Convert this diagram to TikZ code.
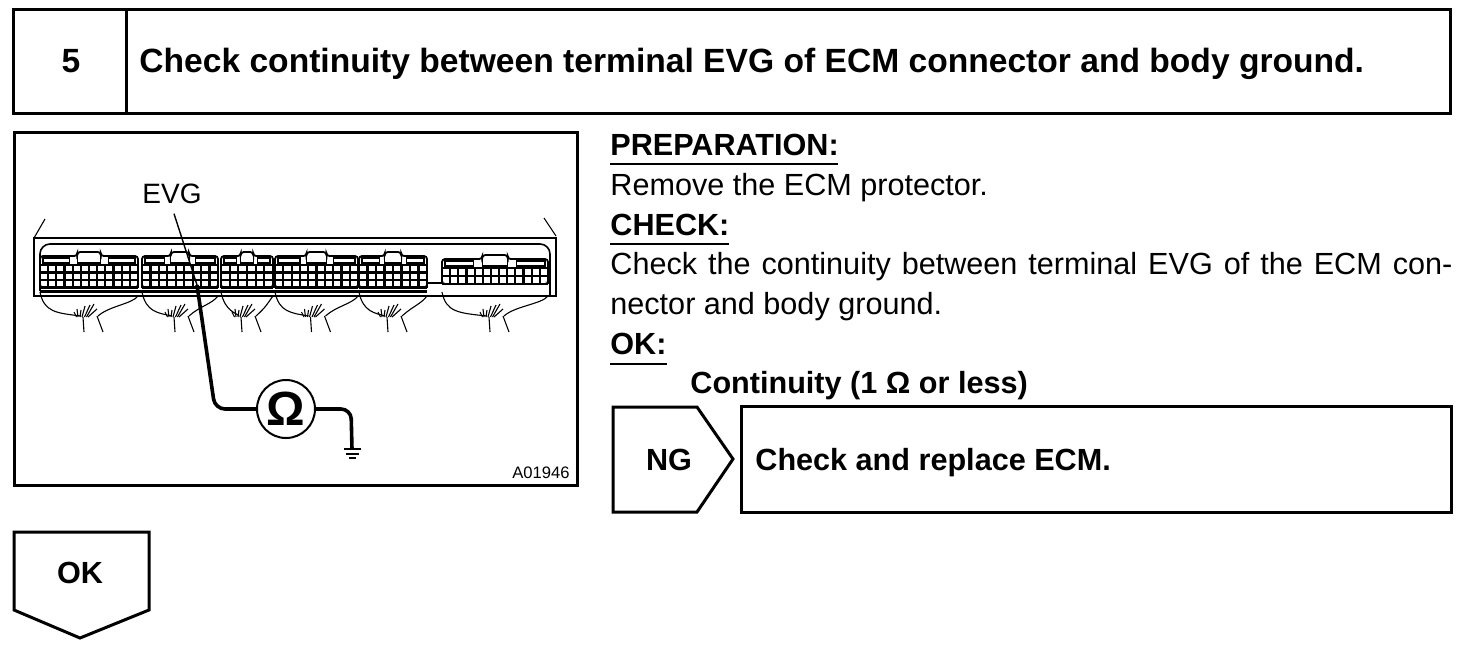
\documentclass[tikz,border=0pt]{standalone}
\usepackage{fontspec}
\setmainfont{Liberation Sans}
\usepackage{tikz}
\usetikzlibrary{arrows}
\tikzset{
  boxline/.style = {draw=black, line width=1.5pt},
  txt/.style = {anchor=base west, inner sep=0pt, font=\fontsize{15.3}{17}\selectfont},
  txt_b/.style = {txt, font=\fontsize{15.3}{17}\selectfont\bfseries},
  txt_t/.style = {txt, font=\fontsize{16.8}{19}\selectfont\bfseries},
  head_u/.style = {line width=0.9pt},% underline of a heading
  wire/.style = {line width=0.55pt},
  probe/.style = {line width=1.8pt, rounded corners=5pt},
  meter/.style = {circle, draw=black, line width=1pt, minimum size=29pt, inner sep=0pt,
    font=\fontsize{24}{24}\selectfont\bfseries}
}
\begin{document}
\begin{tikzpicture}[x=0.5pt,y=-0.5pt]
\useasboundingbox (0,0) rectangle (1472,644);
% header
\draw [boxline] (13,9) rectangle (1450,113);
\draw [boxline] (126,9) -- (126,113);
\node [txt_t, anchor=base] (num) at (71,72) {5};
\node [txt_t] (title) at (139,72) {Check continuity between terminal EVG of ECM connector and body ground.};
% picture frame
\draw [boxline] (14,132) rectangle (577,485);
\draw [wire] (34,238) -- (45,219) (556,236) -- (544,218);
\draw [line width=0.8pt] (34,238) -- (556,238) -- (556,296) -- (34,296) -- cycle;
\draw [line width=0.8pt, rounded corners=5pt] (40,291) -- (40,244) -- (550,244) -- (550,296);
\draw [line width=1.5pt] (40,291) -- (427,291);
\draw [line width=0.8pt] (427,283) -- (442,283);
% connectors, wires and bundles
\foreach \bx/\bw/\ty/\nc/\nr/\rh in {40/98/256/12/3/7.5, 142/76/256/9/3/7.5, 221/52/256/6/3/7.5, 275/83/256/10/3/7.5, 359/68/256/8/3/7.5, 442/106/259/13/2/8}{
  \draw [line width=0.9pt, rounded corners=1.5pt] (\bx,{\ty+9+\nr*\rh}) -- (\bx,\ty) -- ({\bx+.38*\bw},\ty)
    -- ({\bx+.38*\bw},\ty-4) -- ({\bx+.62*\bw},\ty-4) -- ({\bx+.62*\bw},\ty) -- ({\bx+\bw},\ty) -- ({\bx+\bw},{\ty+9+\nr*\rh}) -- cycle;
  \draw [line width=0.6pt] ({\bx+3},\ty+2) rectangle ({\bx+.3*\bw},\ty+7);
  \draw [line width=0.6pt] ({\bx+.7*\bw},\ty+2) rectangle ({\bx+\bw-3},\ty+7);
  \draw [line width=0.6pt] ({\bx+.38*\bw},\ty) -- ({\bx+.38*\bw},\ty+7) -- ({\bx+.62*\bw},\ty+7) -- ({\bx+.62*\bw},\ty);
  \foreach \r in {0,...,\nr}
    \draw [line width=1.1pt] (\bx,{\ty+9+\r*\rh}) -- ({\bx+\bw},{\ty+9+\r*\rh});
  \foreach \i in {0,...,\nc}
    \draw [line width=1.1pt] ({\bx+\i*\bw/\nc},\ty+9) -- ({\bx+\i*\bw/\nc},{\ty+9+\nr*\rh});
  \pgfmathsetmacro{\cx}{\bx+.5*\bw}
  \draw [wire] (\bx,292) .. controls (\bx+4,312) and (\bx+16,313) .. (\cx-8,316);
  \draw [wire] (\bx+\bw,296) .. controls (\bx+\bw-6,304) and (\cx+20,306) .. (\cx+9,316);
  \draw [wire] (\cx-6,317) -- (\cx-5,332) (\cx+8,316) -- (\cx+14,332);
  \foreach \dx/\dy in {-15/312,-12/309,-8/310,-4/306,1/305,5/304,8/309}
    \draw [wire] (\cx-5+.5*\dx,317) -- (\cx+\dx,\dy);
}
% probe and meter
\node [txt, anchor=base, font=\fontsize{14}{15}\selectfont] (evg) at (172,203) {EVG};
\node [meter] (ohm) at (286,409) {Ω};
\coordinate (tip) at (197,285);
\coordinate (gnd) at (352,449);
\draw [wire, line width=0.7pt] (evg.south) ++(2,10) -- (tip);
\draw [probe] (tip) -- (215,409) -- (ohm.west);
\draw [probe] (ohm.east) -- (351,409) -- (gnd);
\draw [line width=0.9pt] (344,449) -- (361,449);
\draw [line width=0.6pt] (346,454) -- (359,454) (349,458) -- (356,458);
\node [txt, anchor=base east, font=\fontsize{8.3}{10}\selectfont] (code) at (570,478) {A01946};
% instructions
\node [txt_b] (prep) at (610,155) {PREPARATION:};
\node [txt] (remove) at (610,195) {Remove the ECM protector.};
\node [txt_b] (check) at (610,235) {CHECK:};
\node [txt] (line_a) at (610,274) {\makebox[421pt][s]{Check the continuity between terminal EVG of the ECM con-}};
\node [txt] (line_b) at (610,314) {nector and body ground.};
\node [txt_b] (ok) at (610,354) {OK:};
\node [txt_b] (cont) at (690,393) {Continuity (1 Ω or less)};
\draw [head_u] (prep.base west) ++(0,9) -- ++(228,0);
\draw [head_u] (check.base west) ++(0,9) -- ++(119,0);
\draw [head_u] (ok.base west) ++(0,10) -- ++(57,0);
% NG
\draw [boxline] (613,407) -- (697,407) -- (733,459) -- (697,512) -- (613,512) -- cycle;
\node [txt_b, anchor=base] (ng) at (669,470) {NG};
\draw [boxline] (741,406) rectangle (1451,512);
\node [txt_b] (replace) at (755,470) {Check and replace ECM.};
% OK
\draw [boxline] (14,532) -- (149,532) -- (149,610) -- (80,638) -- (14,610) -- cycle;
\node [txt_b, anchor=base] (okb) at (80,583) {OK};
\end{tikzpicture}
\end{document}
